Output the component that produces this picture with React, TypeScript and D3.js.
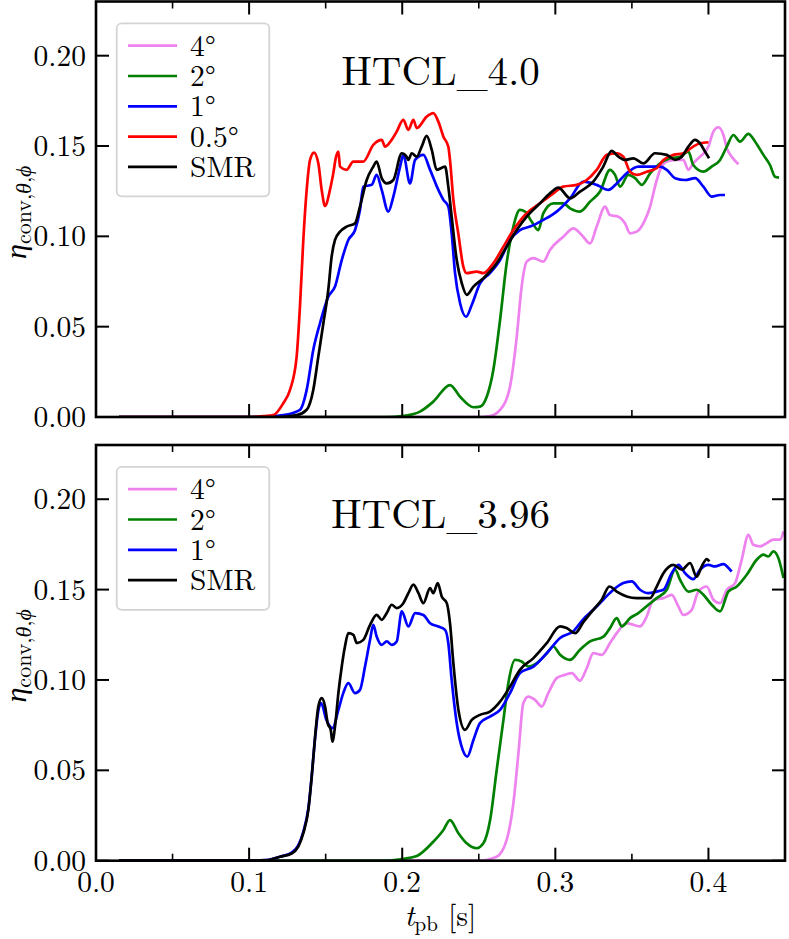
import React from 'react';
import * as d3 from 'd3';

type P = [number, number][];

const xMajor = [0, 0.1, 0.2, 0.3, 0.4];
const xMinor = [0.05, 0.15, 0.25, 0.35];
const xTickLabels = ['0.0', '0.1', '0.2', '0.3', '0.4'];
const yTicks = [0, 0.05, 0.1, 0.15, 0.2];
const yTickLabels = ['0.00', '0.05', '0.10', '0.15', '0.20'];
const xDomain = [0, 0.45];
const yDomain = [0, 0.23];

const topTitle = 'HTCL_4.0';
const bottomTitle = 'HTCL_3.96';

const colViolet = '#ee82ee';
const colGreen = '#008000';
const colBlue = '#0000ff';
const colRed = '#ff0000';
const colBlack = '#000000';

// ---------- top panel (HTCL_4.0) ----------
const top4: P = [[0.015,0],[0.25,0],[0.2573,0.0005],[0.2639,0.0039],[0.2704,0.0168],[0.2748,0.0445],[0.278,0.0722],[0.2813,0.086],[0.2857,0.0879],[0.2922,0.086],[0.2965,0.0925],[0.3052,0.0998],[0.3118,0.1044],[0.3172,0.1008],[0.3227,0.0961],[0.327,0.1054],[0.3325,0.1164],[0.3357,0.1118],[0.3412,0.1109],[0.3455,0.1072],[0.3488,0.1017],[0.3532,0.1026],[0.3586,0.1091],[0.3619,0.1164],[0.3651,0.1275],[0.3684,0.1368],[0.3728,0.1414],[0.3782,0.1423],[0.3836,0.1423],[0.3869,0.1368],[0.3901,0.1404],[0.3945,0.1441],[0.4,0.1497],[0.4032,0.158],[0.4065,0.1604],[0.4098,0.1561],[0.412,0.1488],[0.4152,0.1441],[0.4196,0.1399]];
const top2: P = [[0.015,0],[0.19,0],[0.2,0.0005],[0.2116,0.003],[0.2203,0.0085],[0.2312,0.0177],[0.2378,0.0112],[0.2465,0.0054],[0.2508,0.0057],[0.2552,0.0112],[0.2595,0.026],[0.2639,0.0537],[0.2682,0.0851],[0.2726,0.1054],[0.2769,0.1146],[0.2802,0.1137],[0.2846,0.1081],[0.2889,0.1035],[0.2922,0.1128],[0.2987,0.1183],[0.3052,0.1183],[0.3096,0.1155],[0.3161,0.1137],[0.3227,0.1192],[0.3292,0.1248],[0.3357,0.1368],[0.339,0.134],[0.3423,0.1275],[0.3477,0.134],[0.3521,0.1322],[0.3565,0.1285],[0.3619,0.1349],[0.3684,0.1404],[0.3749,0.1432],[0.3815,0.1441],[0.3869,0.1469],[0.3901,0.1395],[0.3967,0.1358],[0.4021,0.1386],[0.4076,0.1423],[0.412,0.1497],[0.4163,0.1561],[0.4206,0.1524],[0.4261,0.1567],[0.4305,0.1524],[0.4359,0.1451],[0.4402,0.1395],[0.4435,0.133],[0.4461,0.1325]];
const top1: P = [[0.015,0],[0.11,0],[0.1223,0.001],[0.1332,0.004],[0.1376,0.015],[0.1419,0.0371],[0.1463,0.0519],[0.1517,0.0666],[0.1561,0.0722],[0.1605,0.0869],[0.1648,0.098],[0.1692,0.1035],[0.1724,0.1146],[0.1746,0.1275],[0.1801,0.1285],[0.1833,0.134],[0.1866,0.1257],[0.1909,0.1137],[0.1942,0.122],[0.1986,0.1386],[0.2007,0.1451],[0.2051,0.1293],[0.2084,0.1423],[0.2138,0.1451],[0.2182,0.1368],[0.2236,0.1257],[0.2269,0.1202],[0.2301,0.1165],[0.2323,0.1017],[0.2345,0.0796],[0.2378,0.063],[0.2417,0.0555],[0.2454,0.062],[0.2508,0.074],[0.2573,0.0796],[0.2639,0.0869],[0.2704,0.098],[0.2769,0.1035],[0.2835,0.1054],[0.2922,0.1091],[0.3009,0.1137],[0.3096,0.121],[0.3183,0.1303],[0.327,0.1285],[0.3346,0.1257],[0.3401,0.1293],[0.3466,0.1349],[0.3542,0.1386],[0.3619,0.1386],[0.3684,0.1386],[0.3728,0.1368],[0.3782,0.1322],[0.3847,0.1312],[0.3913,0.1322],[0.3967,0.1275],[0.4021,0.122],[0.4076,0.1229],[0.4108,0.1229]];
const top05: P = [[0.015,0],[0.1,0],[0.11,0.0005],[0.1158,0.001],[0.1223,0.0076],[0.1267,0.015],[0.131,0.033],[0.1332,0.061],[0.1354,0.098],[0.1376,0.1257],[0.1398,0.1423],[0.1424,0.1464],[0.1452,0.1405],[0.1474,0.1257],[0.1496,0.1168],[0.1528,0.1257],[0.155,0.135],[0.1568,0.1441],[0.1583,0.1469],[0.1594,0.1386],[0.1637,0.1368],[0.168,0.1414],[0.1746,0.1414],[0.1811,0.1506],[0.1866,0.1534],[0.1888,0.1497],[0.1931,0.1534],[0.1964,0.158],[0.2007,0.1645],[0.204,0.1589],[0.2073,0.1645],[0.2095,0.1599],[0.216,0.1663],[0.2203,0.1682],[0.2236,0.1635],[0.2269,0.1552],[0.2301,0.1497],[0.2312,0.1423],[0.2334,0.1202],[0.2366,0.1017],[0.2399,0.0832],[0.2421,0.0796],[0.2487,0.0805],[0.253,0.0796],[0.2595,0.0851],[0.2661,0.0943],[0.2726,0.1035],[0.2813,0.1128],[0.29,0.1183],[0.2987,0.1238],[0.3052,0.1275],[0.314,0.1285],[0.3205,0.1312],[0.327,0.1368],[0.3336,0.1451],[0.3401,0.146],[0.3444,0.1441],[0.3488,0.1358],[0.3532,0.134],[0.3597,0.1358],[0.3662,0.1377],[0.3706,0.1423],[0.3771,0.1451],[0.3836,0.146],[0.3901,0.1497],[0.3945,0.1515],[0.4,0.1521]];
const topSMR: P = [[0.015,0],[0.12,0],[0.1311,0.001],[0.1376,0.004],[0.1419,0.015],[0.1452,0.0334],[0.1485,0.0519],[0.1517,0.0703],[0.1539,0.0888],[0.1561,0.098],[0.1594,0.1026],[0.1637,0.1054],[0.1692,0.1072],[0.1724,0.1164],[0.1768,0.1312],[0.1811,0.1386],[0.1833,0.1414],[0.1866,0.1322],[0.1899,0.1293],[0.1942,0.1312],[0.1997,0.146],[0.2029,0.1441],[0.204,0.1423],[0.2062,0.146],[0.2095,0.1441],[0.2127,0.1497],[0.216,0.1556],[0.2193,0.1478],[0.2225,0.1368],[0.228,0.1386],[0.2301,0.1275],[0.2323,0.1109],[0.2356,0.0869],[0.2389,0.074],[0.2421,0.0676],[0.2465,0.0722],[0.253,0.0768],[0.2617,0.0851],[0.2682,0.0943],[0.2748,0.1035],[0.2813,0.1109],[0.29,0.1183],[0.2965,0.1238],[0.302,0.127],[0.3096,0.1211],[0.3161,0.1248],[0.3248,0.1303],[0.3313,0.1386],[0.3368,0.1473],[0.3412,0.1441],[0.3455,0.1423],[0.351,0.1432],[0.3575,0.1404],[0.3651,0.146],[0.3728,0.1451],[0.3782,0.1423],[0.3826,0.1441],[0.3869,0.1497],[0.3913,0.1534],[0.3945,0.1515],[0.3978,0.1469],[0.4004,0.1432]];

// ---------- bottom panel (HTCL_3.96) ----------
const bot4: P = [[0.015,0],[0.25,0],[0.2617,0.0022],[0.2682,0.0115],[0.2726,0.0318],[0.2759,0.0595],[0.2791,0.0872],[0.2824,0.0908],[0.2867,0.089],[0.2911,0.0853],[0.2954,0.0927],[0.3009,0.101],[0.3063,0.1028],[0.3107,0.1038],[0.3161,0.0996],[0.3205,0.1065],[0.3248,0.1148],[0.3303,0.1139],[0.3357,0.1204],[0.3401,0.1259],[0.3466,0.1314],[0.3553,0.1296],[0.3597,0.1351],[0.364,0.1444],[0.3706,0.1453],[0.376,0.1471],[0.3804,0.1406],[0.3836,0.136],[0.3891,0.1388],[0.3934,0.1489],[0.3989,0.1517],[0.4032,0.1444],[0.4076,0.1425],[0.412,0.1499],[0.4174,0.1536],[0.4217,0.1665],[0.4261,0.1803],[0.4293,0.1748],[0.4337,0.1739],[0.4381,0.1757],[0.4424,0.1776],[0.4468,0.1776],[0.449,0.1822]];
const bot2: P = [[0.015,0],[0.19,0],[0.1986,0.0008],[0.2095,0.0026],[0.2203,0.0105],[0.2269,0.017],[0.2312,0.0225],[0.2367,0.0152],[0.2421,0.0096],[0.2487,0.0069],[0.253,0.0096],[0.2574,0.0225],[0.2617,0.0502],[0.2661,0.0779],[0.2693,0.0982],[0.2737,0.1111],[0.278,0.1102],[0.2824,0.1074],[0.2878,0.1093],[0.2944,0.1148],[0.2987,0.1185],[0.3031,0.1139],[0.3096,0.1111],[0.3161,0.1167],[0.3227,0.1213],[0.3314,0.124],[0.3357,0.1287],[0.3401,0.1342],[0.3434,0.1296],[0.3488,0.1342],[0.3542,0.137],[0.3608,0.1416],[0.3662,0.1453],[0.3728,0.1499],[0.3782,0.161],[0.3815,0.1554],[0.3869,0.1489],[0.3923,0.1499],[0.3967,0.1471],[0.4021,0.1416],[0.4076,0.1379],[0.413,0.1489],[0.4185,0.1517],[0.425,0.1582],[0.4315,0.1665],[0.4359,0.1693],[0.4391,0.1683],[0.4424,0.1711],[0.4457,0.1674],[0.449,0.1564]];
const bot1: P = [[0.015,0],[0.1,0],[0.1115,0.0003],[0.1202,0.0022],[0.1278,0.0045],[0.1321,0.0085],[0.1354,0.016],[0.1387,0.029],[0.1409,0.047],[0.1431,0.068],[0.1452,0.083],[0.147,0.0872],[0.1505,0.0779],[0.1545,0.0733],[0.1583,0.0834],[0.1615,0.0927],[0.1648,0.0982],[0.1692,0.0927],[0.1724,0.0945],[0.1757,0.1074],[0.179,0.1222],[0.1811,0.1305],[0.1833,0.124],[0.1866,0.1194],[0.1899,0.1213],[0.1931,0.1194],[0.1964,0.1213],[0.1997,0.1379],[0.204,0.1296],[0.2084,0.137],[0.2138,0.136],[0.2182,0.1314],[0.2236,0.1296],[0.228,0.1277],[0.2301,0.1204],[0.2323,0.1001],[0.2356,0.0761],[0.2395,0.0613],[0.2425,0.0576],[0.2465,0.0668],[0.2508,0.0761],[0.2573,0.0797],[0.2639,0.0834],[0.2704,0.0927],[0.2769,0.1038],[0.2857,0.1074],[0.2944,0.1148],[0.3031,0.1232],[0.3118,0.127],[0.3183,0.1337],[0.3248,0.1388],[0.3313,0.1444],[0.3379,0.1499],[0.3444,0.1536],[0.3499,0.1545],[0.3553,0.1499],[0.3608,0.148],[0.3662,0.1489],[0.3706,0.1499],[0.376,0.1591],[0.3804,0.1637],[0.3847,0.1591],[0.3901,0.1558],[0.3945,0.161],[0.4,0.1637],[0.4043,0.1628],[0.4098,0.1641],[0.4141,0.161],[0.4152,0.16]];
const botSMR: P = [[0.015,0],[0.1,0],[0.1115,0.0003],[0.1202,0.0022],[0.1278,0.004],[0.1321,0.0078],[0.1354,0.0152],[0.1387,0.0281],[0.1409,0.0465],[0.1431,0.0687],[0.1452,0.0853],[0.1474,0.0899],[0.1496,0.0853],[0.1513,0.0761],[0.1533,0.0724],[0.1544,0.0659],[0.1561,0.0742],[0.1583,0.0927],[0.1605,0.1074],[0.1626,0.1185],[0.1648,0.1259],[0.1681,0.125],[0.1703,0.1204],[0.1746,0.1222],[0.179,0.1305],[0.1833,0.136],[0.1866,0.1333],[0.1899,0.137],[0.1931,0.1416],[0.1964,0.1398],[0.2007,0.1425],[0.204,0.148],[0.2073,0.1527],[0.2106,0.148],[0.2138,0.1425],[0.2182,0.1508],[0.2203,0.148],[0.2232,0.1536],[0.2258,0.1462],[0.2291,0.1425],[0.2312,0.1314],[0.2334,0.1093],[0.2367,0.0834],[0.241,0.0724],[0.2454,0.0779],[0.2508,0.0807],[0.2573,0.0825],[0.2639,0.088],[0.2704,0.0963],[0.2769,0.1056],[0.2857,0.1121],[0.2944,0.1204],[0.3031,0.1296],[0.3074,0.1287],[0.3129,0.1259],[0.3183,0.132],[0.3248,0.1388],[0.3303,0.1444],[0.3353,0.1517],[0.3401,0.1489],[0.3466,0.1462],[0.3532,0.1453],[0.3619,0.1453],[0.3662,0.1517],[0.3706,0.1591],[0.3771,0.1637],[0.3826,0.161],[0.388,0.1647],[0.3923,0.1572],[0.3956,0.1628],[0.3989,0.1669],[0.4006,0.1656]];

type Series = { label: string; color: string; data: P };

const topSeries: Series[] = [
  { label: '4°', color: colViolet, data: top4 },
  { label: '2°', color: colGreen, data: top2 },
  { label: '1°', color: colBlue, data: top1 },
  { label: '0.5°', color: colRed, data: top05 },
  { label: 'SMR', color: colBlack, data: topSMR },
];
const bottomSeries: Series[] = [
  { label: '4°', color: colViolet, data: bot4 },
  { label: '2°', color: colGreen, data: bot2 },
  { label: '1°', color: colBlue, data: bot1 },
  { label: 'SMR', color: colBlack, data: botSMR },
];

const W = 789;
const H = 939;
const X0 = 96;
const X1 = 785;
const FONT = 'Latin Modern Roman';

const xScale = d3.scaleLinear().domain(xDomain).range([X0, X1]);

function Panel(props: { id: string; top: number; bottom: number; series: Series[]; title: string; showX: boolean }) {
  const { id, top, bottom, series, title, showX } = props;
  const y = d3.scaleLinear().domain(yDomain).range([bottom, top]);
  const line = d3.line<[number, number]>().x((d) => xScale(d[0])).y((d) => y(d[1])).curve(d3.curveMonotoneX);
  const major = 13;
  const minor = 7;
  const legX = 116.7;
  const legY = top + 21.8;
  const rowH = 30.3;
  const legH = 23 + series.length * 30;
  const midY = (top + bottom) / 2 + 3;
  return (
    <g>
      <defs>
        <clipPath id={id}>
          <rect x={X0} y={top} width={X1 - X0} height={bottom - top} />
        </clipPath>
      </defs>
      <g clipPath={`url(#${id})`}>
        {series.map((s) => (
          <path key={s.label} d={line(s.data) || ''} fill="none" stroke={s.color} strokeWidth={2.7} strokeLinejoin="round" strokeLinecap="butt" />
        ))}
      </g>
      {xMajor.map((t) => (
        <g key={'xM' + t}>
          <line x1={xScale(t)} x2={xScale(t)} y1={bottom} y2={bottom - major} stroke="#000" strokeWidth={2} />
          <line x1={xScale(t)} x2={xScale(t)} y1={top} y2={top + major} stroke="#000" strokeWidth={2} />
        </g>
      ))}
      {xMinor.map((t) => (
        <g key={'xm' + t}>
          <line x1={xScale(t)} x2={xScale(t)} y1={bottom} y2={bottom - minor} stroke="#000" strokeWidth={1.6} />
          <line x1={xScale(t)} x2={xScale(t)} y1={top} y2={top + minor} stroke="#000" strokeWidth={1.6} />
        </g>
      ))}
      {yTicks.map((v, i) => (
        <g key={'y' + v}>
          <line x1={X0} x2={X0 + major} y1={y(v)} y2={y(v)} stroke="#000" strokeWidth={2} />
          <line x1={X1} x2={X1 - major} y1={y(v)} y2={y(v)} stroke="#000" strokeWidth={2} />
          <text x={86} y={y(v) + 10} textAnchor="end" fontSize={29.5} fontFamily={FONT}>{yTickLabels[i]}</text>
        </g>
      ))}
      {showX && xMajor.map((t, i) => (
        <text key={'xl' + t} x={xScale(t)} y={bottom + 31} textAnchor="middle" fontSize={29.5} fontFamily={FONT}>{xTickLabels[i]}</text>
      ))}
      <rect x={X0} y={top} width={X1 - X0} height={bottom - top} fill="none" stroke="#000" strokeWidth={2.6} />
      <rect x={legX} y={legY} width={152.6} height={legH} rx={5} ry={5} fill="#ffffff" fillOpacity={0.8} stroke="#d4d4d4" strokeWidth={1.8} />
      {series.map((s, i) => {
        const ry = legY + 22.4 + i * rowH;
        return (
          <g key={'leg' + s.label}>
            <line x1={128} x2={177} y1={ry} y2={ry} stroke={s.color} strokeWidth={2.7} />
            <text x={190} y={ry + 10} fontSize={29.5} fontFamily={FONT}>{s.label}</text>
          </g>
        );
      })}
      <text x={(X0 + X1) / 2} y={top + 83} textAnchor="middle" fontSize={41} fontFamily={FONT}>{title}</text>
      <text transform={`translate(26, ${midY}) rotate(-90)`} textAnchor="middle" fontSize={30} fontFamily={FONT}>
        <tspan fontStyle="italic">η</tspan>
        <tspan fontSize={22} dy={5}>conv,</tspan>
        <tspan fontSize={22} fontStyle="italic">θ</tspan>
        <tspan fontSize={22}>,</tspan>
        <tspan fontSize={22} fontStyle="italic">ϕ</tspan>
      </text>
    </g>
  );
}

export default function App() {
  return (
    <svg width={W} height={H} viewBox={`0 0 ${W} ${H}`} style={{ position: 'absolute', left: 0, top: 0, background: '#fff' }}>
      <rect x={0} y={0} width={W} height={H} fill="#fff" />
      <Panel id="clipTop" top={1.5} bottom={417} series={topSeries} title={topTitle} showX={false} />
      <Panel id="clipBot" top={445} bottom={860.7} series={bottomSeries} title={bottomTitle} showX={true} />
      <text x={(X0 + X1) / 2} y={926} textAnchor="middle" fontSize={30} fontFamily={FONT}>
        <tspan fontStyle="italic">t</tspan>
        <tspan fontSize={21} dy={5}>pb</tspan>
        <tspan dy={-5}> [s]</tspan>
      </text>
    </svg>
  );
}
